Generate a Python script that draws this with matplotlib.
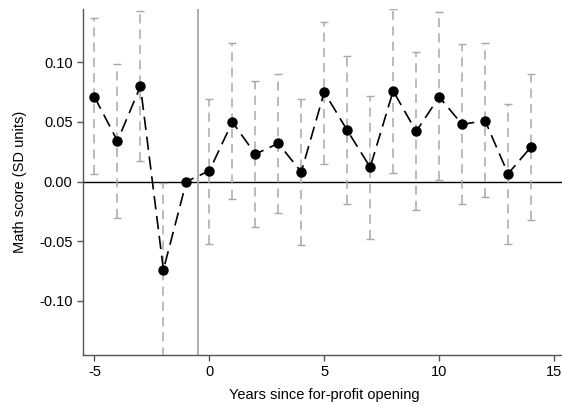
import numpy as np
import matplotlib
matplotlib.use('Agg')
import matplotlib.pyplot as plt

plt.rcParams['font.family'] = ['Liberation Sans', 'DejaVu Sans']
plt.rcParams['font.size'] = 10.5
plt.rcParams['axes.unicode_minus'] = False

# Event-study estimates (years relative to for-profit opening)
years = [-5, -4, -3, -2, -1, 0, 1, 2, 3, 4, 5, 6, 7, 8, 9, 10, 11, 12, 13, 14]
coef = [0.071, 0.034, 0.080, -0.074, 0.000, 0.009, 0.050, 0.023, 0.032, 0.008,
        0.075, 0.043, 0.012, 0.076, 0.042, 0.071, 0.048, 0.051, 0.0065, 0.029]
ci_low = [0.006, -0.031, 0.0175, -0.160, np.nan, -0.052, -0.015, -0.038, -0.026, -0.0535,
          0.015, -0.019, -0.0485, 0.007, -0.024, 0.001, -0.019, -0.013, -0.052, -0.032]
ci_high = [0.137, 0.099, 0.143, -0.001, np.nan, 0.0695, 0.116, 0.084, 0.090, 0.0695,
           0.134, 0.1055, 0.072, 0.145, 0.109, 0.142, 0.115, 0.116, 0.065, 0.090]

years = np.array(years)
coef = np.array(coef)
ci_low = np.array(ci_low)
ci_high = np.array(ci_high)

fig = plt.figure(figsize=(5.62, 4.07), dpi=100)
ax = fig.add_axes([0.1477, 0.1278, 0.8585, 0.850])

# confidence intervals (no interval for the reference year)
has_ci = ~np.isnan(ci_low)
eb = ax.errorbar(years[has_ci], coef[has_ci],
                 yerr=[coef[has_ci] - ci_low[has_ci], ci_high[has_ci] - coef[has_ci]],
                 fmt='none', ecolor='#a8a8a8', elinewidth=1.1, capsize=3, capthick=1.0)
eb[2][0].set_linestyle((0, (6, 4)))

ax.axhline(0, color='black', linewidth=1.0, zorder=1)
ax.axvline(-0.5, color='#a8a8a8', linewidth=1.3, zorder=1)

ax.plot(years, coef, color='black', linestyle=(0, (8, 4)), linewidth=1.2,
        marker='o', markersize=6.5, zorder=3)

ax.set_xlim(-5.5, 15.5)
ax.set_ylim(-0.1455, 0.1447)
ax.set_xticks([-5, 0, 5, 10, 15])
ax.set_yticks([-0.10, -0.05, 0.00, 0.05, 0.10])
ax.set_yticklabels(['-0.10', '-0.05', '0.00', '0.05', '0.10'])

for side in ['top', 'right']:
    ax.spines[side].set_visible(False)
for side in ['left', 'bottom']:
    ax.spines[side].set_color('#555555')
    ax.spines[side].set_linewidth(1.0)
ax.tick_params(colors='#555555', labelcolor='black', length=4, width=1.0)

ax.set_xlabel('Years since for-profit opening', labelpad=6)
ax.set_ylabel('Math score (SD units)', labelpad=9)

fig.savefig('out.png', dpi=100)
